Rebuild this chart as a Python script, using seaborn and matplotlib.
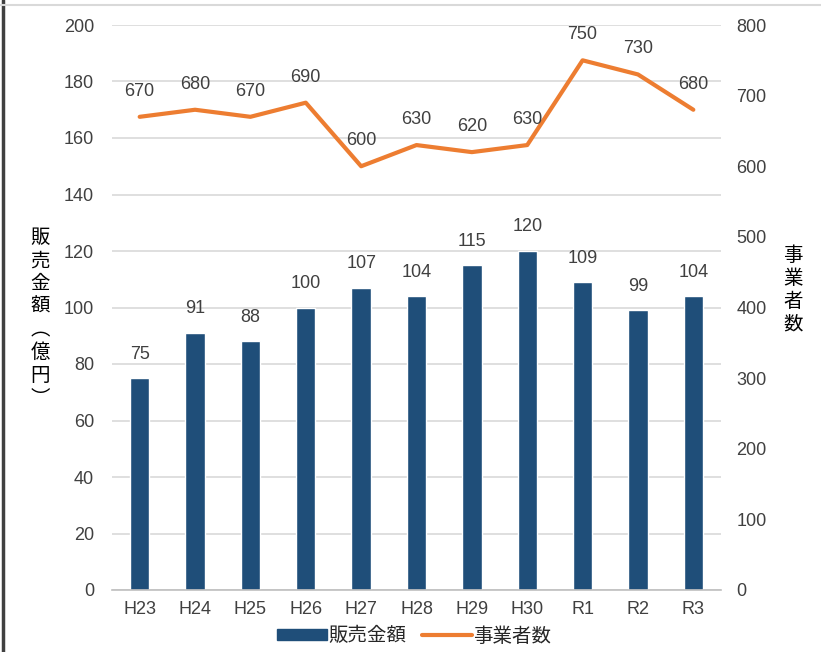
import matplotlib
matplotlib.use("Agg")
import matplotlib.pyplot as plt
import seaborn as sns
import pandas as pd
from matplotlib.patches import Rectangle
from matplotlib.lines import Line2D

years = ["H23", "H24", "H25", "H26", "H27", "H28", "H29", "H30", "R1", "R2", "R3"]
sales = [75, 91, 88, 100, 107, 104, 115, 120, 109, 99, 104]
operators = [670, 680, 670, 690, 600, 630, 620, 630, 750, 730, 680]
sales_label = "販売金額"
ops_label = "事業者数"

sns.set_theme(style="white")
plt.rcParams['font.family'] = ['Liberation Sans', 'Noto Sans CJK JP', 'DejaVu Sans']

BAR = "#1F4E79"
ORANGE = "#ED7D31"
TXT = "#404040"
CJK = ['Noto Sans CJK JP', 'DejaVu Sans']

df = pd.DataFrame({"year": years, "sales": sales, "ops": operators})

fig = plt.figure(figsize=(8.21, 6.52), dpi=100)
ax = fig.add_axes([112/821, 1-590/652, (721-112)/821, (590-25)/652])

sns.barplot(data=df, x="year", y="sales", color=BAR, width=0.35, ax=ax, saturation=1)
ax.set_ylim(0, 200)
ax.set_yticks(range(0, 201, 20))
ax.set_xlim(-0.5, len(years)-0.5)
ax.yaxis.grid(True, color="#D9D9D9", linewidth=1.2)
ax.set_axisbelow(True)
for s in ["top", "right", "left"]:
    ax.spines[s].set_visible(False)
ax.spines["bottom"].set_color("#BFBFBF")
ax.spines["bottom"].set_linewidth(1.2)
ax.tick_params(axis="y", labelsize=13, colors=TXT, length=0, pad=13)
ax.tick_params(axis="x", labelsize=13, colors=TXT, length=0, pad=8)
ax.set_xlabel("")
ax.set_ylabel("")
for i, v in enumerate(sales):
    ax.text(i, v + 5.5, str(v), ha="center", va="bottom", fontsize=13, color=TXT)

ax2 = ax.twinx()
sns.lineplot(data=df, x="year", y="ops", color=ORANGE, linewidth=3, ax=ax2, sort=False)
ax2.set_ylim(0, 800)
ax2.set_yticks(range(0, 801, 100))
for s in ["top", "right", "left", "bottom"]:
    ax2.spines[s].set_visible(False)
ax2.tick_params(axis="y", labelsize=13, colors=TXT, length=0, pad=11)
ax2.set_ylabel("")
ax2.set_xlabel("")
for i, v in enumerate(operators):
    ax2.text(i, v + 24, str(v), ha="center", va="bottom", fontsize=13, color=TXT)

# vertical axis titles
fig.text(40/821, 1-318/652, "販\n売\n金\n額\n︵\n億\n円\n︶", ha="center", va="center",
         fontsize=14, color="black", family=CJK, linespacing=1.12)
fig.text(793/821, 1-290/652, "事\n業\n者\n数", ha="center", va="center",
         fontsize=14, color="black", family=CJK, linespacing=1.12)

# legend
handles = [Rectangle((0, 0), 1, 1, color=BAR), Line2D([0], [0], color=ORANGE, linewidth=3)]
leg = fig.legend(handles, [sales_label, ops_label], loc="center", bbox_to_anchor=(414/821, 1-636/652),
                 ncol=2, frameon=False, handlelength=2.6, handleheight=0.55,
                 columnspacing=0.8, handletextpad=0.05,
                 prop={'family': CJK, 'size': 14})
for t in leg.get_texts():
    t.set_color("#262626")

# frame borders of the original image
fig.add_artist(Line2D([3/821, 3/821], [0, 1], color="#404040", linewidth=2.5, transform=fig.transFigure))
fig.add_artist(Line2D([0, 1], [1-5/652, 1-5/652], color="#D9D9D9", linewidth=1.5, transform=fig.transFigure))

fig.savefig("out.png", dpi=100)
